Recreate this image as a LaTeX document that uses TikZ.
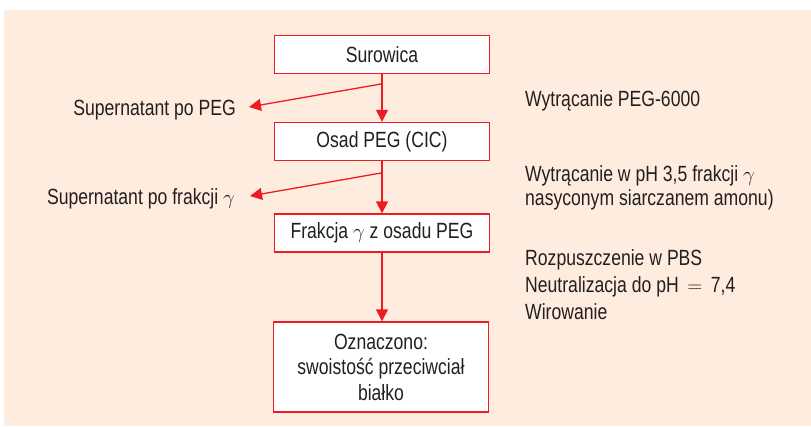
\documentclass[tikz,border=0pt]{standalone}
\usepackage{fontspec}
\setmainfont{Liberation Sans}[FakeStretch=0.8]
\usetikzlibrary{arrows.meta}
\definecolor{peach}{RGB}{254,237,222}
\definecolor{boxred}{RGB}{237,28,36}
\definecolor{ink}{RGB}{35,31,32}
\tikzset{
	stage/.style={draw=boxred, line width=1.3pt, fill=white, minimum width=215pt, minimum height=38pt,
		align=center, text=ink, font=\fontsize{22}{25.5}\selectfont},
	note/.style={anchor=base west, inner sep=0pt, text=ink, font=\fontsize{22}{27}\selectfont},
	flow/.style={boxred, line width=1.3pt, -{Triangle[length=12pt,width=12pt]}}
}

\begin{document}
\begin{tikzpicture}[x=1pt,y=-1pt]
				      % Background
				      \useasboundingbox (0,0) rectangle (811,426);
				      \fill[peach] (4,10) rectangle (811,426);
				      % Stages
				      \node[stage] (sur) at (382,54.5) {Surowica};
				      \node[stage] (osad) at (382,141.5) {Osad PEG (CIC)};
				      \node[stage] (frak) at (382,233) {Frakcja $\gamma$ z osadu PEG};
				      \node[stage, minimum height=90pt] (ozn) at (381,367) {Oznaczono:\\swoistość przeciwciał\\białko};
				      % Side products
				      \node[note, anchor=base east] (sup1) at (236,115) {Supernatant po PEG};
				      \node[note, anchor=base east] (sup2) at (235,204) {Supernatant po frakcji $\gamma$};
				      \coordinate (b1) at (381,84);
				      \coordinate (t1) at (249,107);
				      \coordinate (b2) at (381,173);
				      \coordinate (t2) at (250,196);
				      % Arrows
				      \draw[flow] (sur) -- (osad);
				      \draw[flow] (osad) -- (frak);
				      \draw[flow] (frak.south) -- (ozn.north -| frak.south);
				      \draw[flow] (b1) -- (t1);
				      \draw[flow] (b2) -- (t2);
				      % Steps
				      \node[note] (n1) at (525,106.5) {Wytrącanie PEG-6000};
				      \node[note] (n2) at (525,181) {Wytrącanie w pH 3,5 frakcji $\gamma$};
				      \node[note] (n3) at (525,205.5) {nasyconym siarczanem amonu)};
				      \node[note] (n4) at (525,265.7) {Rozpuszczenie w PBS};
				      \node[note] (n5) at (525,292.7) {Neutralizacja do pH \,$=$\, 7,4};
				      \node[note] (n6) at (525,319.7) {Wirowanie};
			      \end{tikzpicture}
\end{document}
